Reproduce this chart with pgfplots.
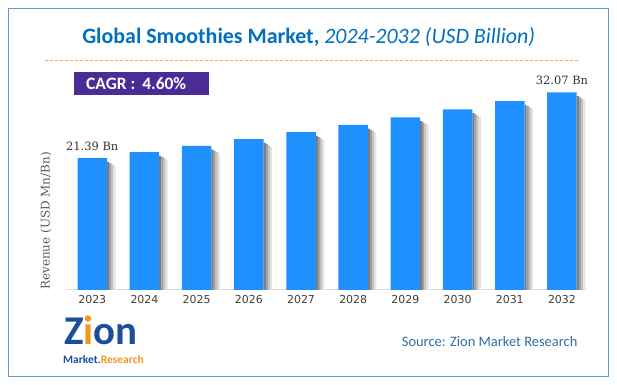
\documentclass[border=0pt]{standalone}
\usepackage{pgfplots}
\pgfplotsset{compat=1.18}
\usepackage{pgfplotstable}
\usepackage{fontspec}
\setmainfont{Carlito}
\newfontfamily\dvs{DejaVu Sans}
\newfontfamily\dvserif{DejaVu Serif}
\definecolor{barblue}{HTML}{1E90FF}
\definecolor{titleblue}{HTML}{0070C0}
\definecolor{frameblue}{HTML}{5B9BD5}
\definecolor{cagrpurple}{HTML}{4B2C96}
\definecolor{dashorange}{HTML}{F4A26A}
\definecolor{srcblue}{HTML}{2F6EA8}
\definecolor{logoblue}{HTML}{1B4F9C}
\definecolor{logoorange}{HTML}{F7941D}
\pgfplotstableread{
x v
0 21.39
1 22.37
2 23.40
3 24.48
4 25.61
5 26.79
6 28.02
7 29.31
8 30.66
9 32.07
}\smoothdata
\begin{document}
\begin{tikzpicture}
\fill[white] (0bp,0bp) rectangle (617bp,385bp);
\draw[frameblue, line width=1.2bp] (8.3bp,376.7bp) rectangle (608.3bp,8.5bp);
\node[anchor=base, text=titleblue, font=\fontsize{22}{25}\selectfont, inner sep=0pt] at (308.7bp,341.7bp)
  {\bfseries Global Smoothies Market, \mdseries\itshape 2024-2032 (USD Billion)};
\draw[dashorange, line width=1bp, dash pattern=on 3bp off 2bp] (45bp,324bp) -- (579bp,324bp);
\fill[cagrpurple] (74bp,313.3bp) rectangle (208.7bp,290bp);
\node[anchor=base west, text=white, font=\fontsize{17.5}{20}\selectfont\bfseries, inner sep=0pt] at (86bp,295.7bp) {CAGR :\, 4.60\%};
\node[rotate=90, text=black!65, font=\dvserif\fontsize{12}{14}\selectfont, inner sep=0pt] at (46bp,164bp) {Revenue (USD Mn/Bn)};
\node[anchor=base west, text=srcblue, font=\fontsize{14.5}{17}\selectfont, inner sep=0pt] at (401.7bp,39bp) {Source: Zion Market Research};
\node[anchor=base west, text=logoblue, font=\fontsize{41}{41}\selectfont\bfseries, inner sep=0pt] at (64bp,40bp) {Z\textcolor{logoorange}{i}on};
\node[anchor=base west, font=\fontsize{11.5}{12}\selectfont\bfseries, inner sep=0pt] at (63bp,22bp) {\textcolor{logoblue}{Market.}\textcolor{logoorange}{Research}};
\begin{axis}[
  at={(66.7bp,95bp)}, anchor=south west,
  scale only axis, width=520.3bp, height=215.6bp,
  xmin=-0.49, xmax=9.48, ymin=0, ymax=35,
  axis x line=bottom, axis y line=none,
  x axis line style={-, draw=black!15, line width=1bp},
  xtick={0,...,9},
  xticklabels={2023,2024,2025,2026,2027,2028,2029,2030,2031,2032},
  xtick style={draw=none},
  xticklabel style={font=\dvs\fontsize{11}{13}\selectfont, text=black!75},
  clip=false,
]
\addplot[ybar, bar width=2.2bp, bar shift=15.85bp, draw=none, fill=black!52]
  table[x=x, y expr=\thisrow{v}-0.6] {\smoothdata};
\addplot[ybar, bar width=2.2bp, bar shift=17.95bp, draw=none, fill=black!38]
  table[x=x, y expr=\thisrow{v}-0.8] {\smoothdata};
\addplot[ybar, bar width=2.2bp, bar shift=20.05bp, draw=none, fill=black!24]
  table[x=x, y expr=\thisrow{v}-1.0] {\smoothdata};
\addplot[ybar, bar width=2.2bp, bar shift=22.15bp, draw=none, fill=black!11]
  table[x=x, y expr=\thisrow{v}-1.2] {\smoothdata};
\addplot[ybar, bar width=29.5bp, bar shift=0pt, draw=none, fill=barblue]
  table[x=x, y=v] {\smoothdata};
\node[anchor=base, yshift=7.4bp, text=black!80, font=\dvserif\fontsize{11.5}{13}\selectfont, inner sep=0pt] at (axis cs:0,21.39) {21.39 Bn};
\node[anchor=base, yshift=7.6bp, text=black!80, font=\dvserif\fontsize{11.5}{13}\selectfont, inner sep=0pt] at (axis cs:9,32.07) {32.07 Bn};
\end{axis}
\end{tikzpicture}
\end{document}
